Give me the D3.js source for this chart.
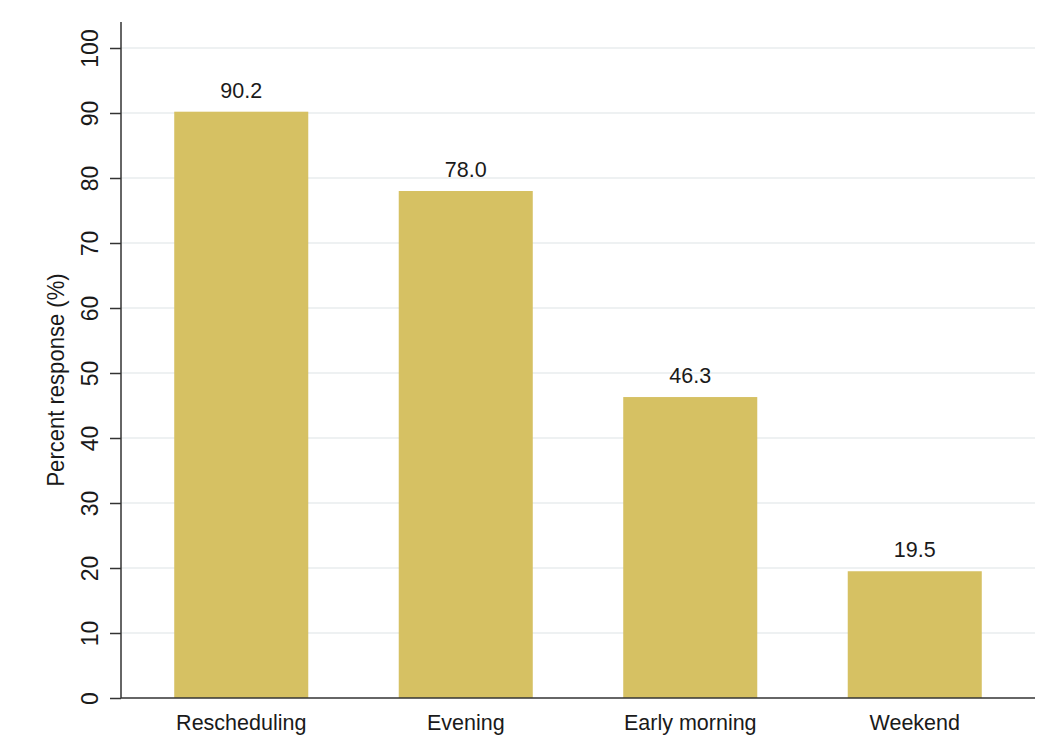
<!DOCTYPE html>
<html>
<head>
<meta charset="utf-8">
<script src="https://cdn.jsdelivr.net/npm/d3@7"></script>
<style>
  html, body { margin: 0; padding: 0; background: #fff; }
  text { font-family: "Liberation Sans", Arial, sans-serif; fill: #1a1a1a; }
</style>
</head>
<body>
<svg id="chart" width="1044" height="743"></svg>
<script>
const categories = ["Rescheduling", "Evening", "Early morning", "Weekend"];
const values = [90.2, 78.0, 46.3, 19.5];
const valueLabels = ["90.2", "78.0", "46.3", "19.5"];
const yTicks = [0, 10, 20, 30, 40, 50, 60, 70, 80, 90, 100];
const yTitle = "Percent response (%)";

const svg = d3.select("#chart");
const axisX = 121, axisRight = 1035, axisTop = 22;

const y = d3.scaleLinear().domain([0, 100]).range([698, 48]);
const x = d3.scaleBand().domain(categories).range([129, 1027]).paddingInner(0.403).paddingOuter(0.2015);

// gridlines
svg.append("g").selectAll("line").data(yTicks.filter(d => d > 0)).join("line")
  .attr("x1", axisX).attr("x2", axisRight)
  .attr("y1", d => y(d)).attr("y2", d => y(d))
  .attr("stroke", "#e9ecee").attr("stroke-width", 1.5);

// bars
svg.append("g").selectAll("rect").data(values).join("rect")
  .attr("x", (d, i) => x(categories[i]))
  .attr("width", x.bandwidth())
  .attr("y", d => y(d))
  .attr("height", d => y(0) - y(d))
  .attr("fill", "#d6c163");

// value labels
svg.append("g").selectAll("text").data(values).join("text")
  .attr("x", (d, i) => x(categories[i]) + x.bandwidth() / 2)
  .attr("y", d => y(d) - 14)
  .attr("text-anchor", "middle")
  .attr("font-size", 21.5)
  .text((d, i) => valueLabels[i]);

// y axis
const yAxis = d3.axisLeft(y).tickValues(yTicks).tickSize(11).tickPadding(0).tickFormat(d3.format("d"));
const gy = svg.append("g").attr("transform", `translate(${axisX},0)`).call(yAxis);
gy.select(".domain").remove();
gy.selectAll(".tick line").attr("stroke", "#333").attr("stroke-width", 1.5);
gy.selectAll(".tick text")
  .attr("font-size", 23)
  .attr("fill", "#1a1a1a")
  .attr("transform", "translate(-31.5,0) rotate(-90)")
  .attr("x", 0).attr("dy", "0.35em")
  .attr("text-anchor", "middle");
gy.append("line").attr("x1", 0).attr("x2", 0).attr("y1", axisTop).attr("y2", y(0))
  .attr("stroke", "#333").attr("stroke-width", 1.5);

// x axis
const xAxis = d3.axisBottom(x).tickSize(0).tickPadding(0);
const gx = svg.append("g").attr("transform", `translate(0,${y(0)})`).call(xAxis);
gx.select(".domain").remove();
gx.selectAll(".tick text").attr("font-size", 21.5).attr("fill", "#1a1a1a").attr("dy", 0).attr("y", 32);
gx.append("line").attr("x1", axisX).attr("x2", axisRight).attr("y1", 0).attr("y2", 0)
  .attr("stroke", "#333").attr("stroke-width", 1.5);

// y title
svg.append("text")
  .attr("transform", "translate(64,380) rotate(-90) scale(0.9,1)")
  .attr("text-anchor", "middle")
  .attr("font-size", 24.5)
  .text(yTitle);
</script>
</body>
</html>
